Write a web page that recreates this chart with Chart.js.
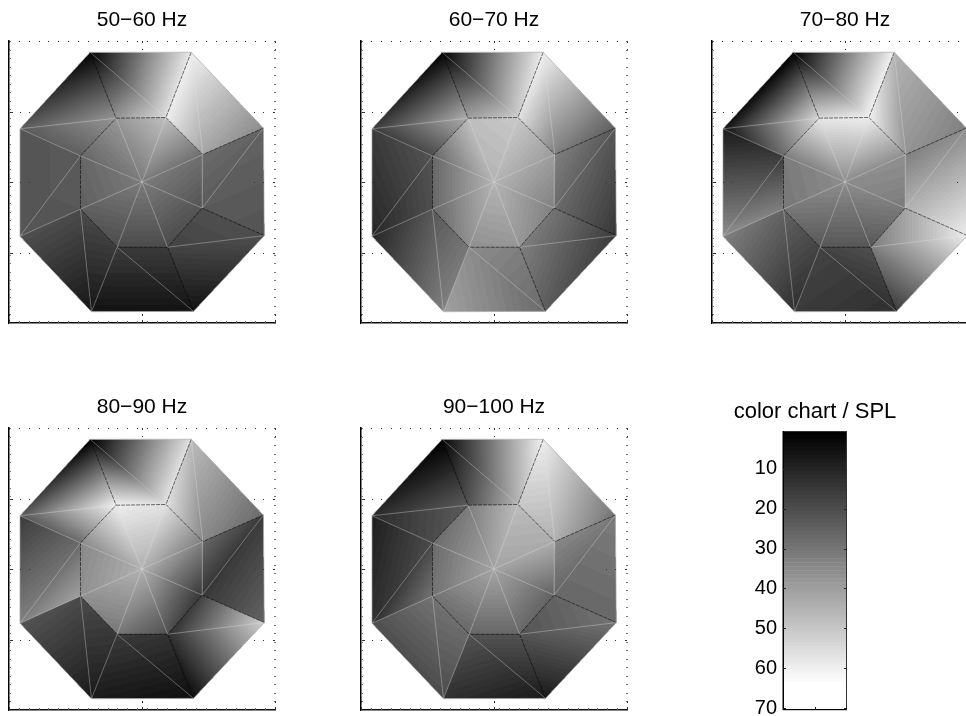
<!DOCTYPE html>
<html><head><meta charset="utf-8">
<script src="https://cdn.jsdelivr.net/npm/chart.js@4"></script>
<style>
html,body{margin:0;padding:0;width:966px;height:716px;overflow:hidden;background:#fff}
canvas{position:absolute}
</style></head><body>
<script>
// mesh vertices in room coordinates
const outerX=[-1.56,1.48,3.65,3.68,1.55,-1.52,-3.67,-3.67];
const outerY=[3.68,3.68,1.53,-1.52,-3.67,-3.68,-1.54,1.51];
const innerX=[-0.78,0.72,1.83,1.81,0.77,-0.75,-1.85,-1.85];
const innerY=[1.81,1.83,0.78,-0.74,-1.85,-1.85,-0.77,0.74];
const xTickValues=[-4,0,4];
const yTickValues=[-4,-2,0,2,4];
const colorbarLabels=[];for(let i=1;i<=70;i++)colorbarLabels.push(String(i));

// SPL at the vertices of each band: centre, inner ring, wall quads [outer i, outer i+1, inner i+1, inner i]
const titles=['50−60 Hz','60−70 Hz','70−80 Hz','80−90 Hz','90−100 Hz'];
const center5060=32;
const inner5060=[38.5,48.5,29,22,20,20,25,27];
const walls5060=[[2,59,56,38],[61,36,42,60],[26,22,24,28],[21,6,18,21],[6,6,16,16],[7,21,20,16],[22,22,24,23],[24,2,38,25]];
const center6070=46;
const inner6070=[48.5,51,40,33,38.5,37,27,27];
const walls6070=[[2,60,52,41],[61,25,33,57],[23,15,28,33],[16,24,33,30],[28,41,36,33],[33,11,23,31],[11,16,22,21],[16,2,44,20]];
const center7080=36;
const inner7080=[58.5,60,37,32,23,23,31,32];
const walls7080=[[1,61,61,55],[46,33,38,61],[36,60,45,33],[60,16,32,42],[13,16,18,21],[13,33,26,18],[36,8,16,33],[6,1,55,28]];
const center8090=45;
const inner8090=[60,57,33,15,21,31,37,35];
const walls8090=[[1,57,57,61],[48,28,35,57],[16,26,15,27],[53,5,13,18],[5,8,16,14],[8,22,20,15],[33,16,28,41],[23,1,61,28]];
const center90100=42;
const inner90100=[32,48,44,26,27,27,30,28];
const walls90100=[[3,61,46,22],[60,30,45,51],[32,27,27,35],[30,8,22,26],[8,13,22,22],[20,21,30,28],[13,9,20,30],[12,1,24,20]];

const FONT='"Liberation Sans", Arial, sans-serif';
const TITLE_SIZE=21;
const CB_TITLE_SIZE=22;
function grayOf(v){const l=Math.max(1,Math.min(64,Math.floor(v)));return Math.round((l-1)/63*255);}

const V=(x,y)=>({x,y});
const O=i=>V(outerX[i%8],outerY[i%8]);
const I=i=>V(innerX[i%8],innerY[i%8]);
function linePts(pairs){const d=[];pairs.forEach(p=>{d.push(p[0],p[1],{x:null,y:null});});return d;}
const outlinePairs=[],lightPairs=[],darkPairs=[],faintPairs=[];
for(let i=0;i<8;i++){
  outlinePairs.push([O(i),O(i+1)]);
  lightPairs.push([V(0,0),I(i)]);
  lightPairs.push([O(i),I(i+1)]);
  if(i===5||i===6||i===7)lightPairs.push([O(i),I(i)]);else darkPairs.push([O(i),I(i)]);
  if(i===2)faintPairs.push([I(i),I(i+1)]);else darkPairs.push([I(i),I(i+1)]);
}

const meshPlugin={id:'mesh',beforeDatasetsDraw(chart,args,opts){
  const xs=chart.scales.x,ys=chart.scales.y,a=chart.chartArea,ctx=chart.ctx,S=2;
  const w=Math.ceil((a.right-a.left)*S),h=Math.ceil((a.bottom-a.top)*S);
  const off=document.createElement('canvas');off.width=w;off.height=h;
  const oc=off.getContext('2d'),img=oc.createImageData(w,h),D=img.data;
  const P=p=>[(xs.getPixelForValue(p.x)-a.left)*S,(ys.getPixelForValue(p.y)-a.top)*S];
  const tri=(A,B,C,va,vb,vc)=>{
    const [x1,y1]=P(A),[x2,y2]=P(B),[x3,y3]=P(C);
    const den=(y2-y3)*(x1-x3)+(x3-x2)*(y1-y3);
    const x0=Math.max(0,Math.floor(Math.min(x1,x2,x3))),x9=Math.min(w-1,Math.ceil(Math.max(x1,x2,x3)));
    const y0=Math.max(0,Math.floor(Math.min(y1,y2,y3))),y9=Math.min(h-1,Math.ceil(Math.max(y1,y2,y3)));
    for(let y=y0;y<=y9;y++)for(let x=x0;x<=x9;x++){
      const px=x+.5,py=y+.5;
      const l1=((y2-y3)*(px-x3)+(x3-x2)*(py-y3))/den;
      const l2=((y3-y1)*(px-x3)+(x1-x3)*(py-y3))/den;
      const l3=1-l1-l2;
      if(l1<-1e-6||l2<-1e-6||l3<-1e-6)continue;
      const g=grayOf(l1*va+l2*vb+l3*vc),k=(y*w+x)*4;
      D[k]=D[k+1]=D[k+2]=g;D[k+3]=255;
    }
  };
  for(let i=0;i<8;i++){
    const j=(i+1)%8,q=opts.walls[i];
    tri(V(0,0),I(i),I(j),opts.center,opts.inner[i],opts.inner[j]);
    tri(O(i),O(j),I(j),q[0],q[1],q[2]);
    tri(O(i),I(j),I(i),q[0],q[2],q[3]);
  }
  oc.putImageData(img,0,0);
  ctx.save();ctx.imageSmoothingEnabled=true;
  ctx.drawImage(off,a.left,a.top,w/S,h/S);
  ctx.restore();
},afterDatasetsDraw(chart){
  const xs=chart.scales.x,ys=chart.scales.y,a=chart.chartArea,ctx=chart.ctx;
  ctx.save();
  const NX=27,NY=33;
  for(let k=0;k<=NX;k++){
    const px=Math.round(xs.getPixelForValue(xs.min+(xs.max-xs.min)*k/NX));
    ctx.fillStyle='#222';ctx.fillRect(px,a.top,1,1);
    ctx.fillStyle='#666';ctx.fillRect(px,a.bottom-2,1,2);
  }
  for(let k=0;k<=NY;k++){
    const py=Math.round(ys.getPixelForValue(ys.min+(ys.max-ys.min)*k/NY));
    ctx.fillStyle='#777';ctx.fillRect(a.right-1,py,2,1);
    ctx.fillStyle='#777';ctx.fillRect(a.left,py,2,1);
  }
  xs.ticks.forEach(t=>{
    const px=Math.round(xs.getPixelForValue(t.value));
    ctx.fillStyle='#333';ctx.fillRect(px,a.top+8,1,1);ctx.fillRect(px,a.bottom-9,1,2);ctx.fillRect(px,a.top,1,2);ctx.fillRect(px,a.bottom-3,1,3);
  });
  ys.ticks.forEach(t=>{
    if(t.value===ys.min||t.value===ys.max)return;
    const py=Math.round(ys.getPixelForValue(t.value));
    ctx.fillStyle='#333';
    [10,20,29].forEach(d=>ctx.fillRect(a.left+d-9,py,d===10?3:1,1));
    [254,263,273].forEach(d=>ctx.fillRect(a.left+d-9,py,d===273?2:1,1));
  });
  ctx.restore();
}};

function makePanel(idx,left,top,center,inner,walls){
  const c=document.createElement('canvas');
  c.width=284;c.height=329;
  c.style.left=(left-9)+'px';c.style.top=(top-41)+'px';
  document.body.appendChild(c);
  new Chart(c,{type:'scatter',
    data:{datasets:[
      {data:linePts(outlinePairs),showLine:true,borderColor:'rgba(165,165,165,.7)',borderWidth:1,pointRadius:0,spanGaps:false},
      {data:linePts(lightPairs),showLine:true,borderColor:'rgba(225,225,225,.5)',borderWidth:.7,pointRadius:0,spanGaps:false},
      {data:linePts(faintPairs),showLine:true,borderColor:'rgba(225,225,225,.25)',borderWidth:.7,pointRadius:0,spanGaps:false},
      {data:linePts(darkPairs),showLine:true,borderColor:'rgba(0,0,0,.55)',borderWidth:1,borderDash:[4,1],pointRadius:0,spanGaps:false}
    ]},
    options:{responsive:false,animation:false,
      layout:{padding:{left:9,right:9,top:0,bottom:6}},
      plugins:{legend:{display:false},tooltip:{enabled:false},
        title:{display:true,text:titles[idx],color:'#000',font:{family:FONT,size:TITLE_SIZE,weight:'normal',lineHeight:1.2},padding:{top:8,bottom:41-8-TITLE_SIZE*1.2}},
        mesh:{center,inner,walls}},
      scales:{
        x:{type:'linear',min:-4,max:4,afterBuildTicks(s){s.ticks=xTickValues.map(v=>({value:v}));},afterFit(s){s.height=0;},
          ticks:{display:false},grid:{drawOnChartArea:false,drawTicks:false},border:{display:true,color:'#111',width:1.5}},
        y:{type:'linear',min:-4,max:4,afterBuildTicks(s){s.ticks=yTickValues.map(v=>({value:v}));},afterFit(s){s.width=0;},
          ticks:{display:false},grid:{drawOnChartArea:false,drawTicks:false},border:{display:true,color:'#000',width:1.5}}
      }},
    plugins:[meshPlugin]});
}
makePanel(0,9,41,center5060,inner5060,walls5060);
makePanel(1,361,41,center6070,inner6070,walls6070);
makePanel(2,712,41,center7080,inner7080,walls7080);
makePanel(3,9,428,center8090,inner8090,walls8090);
makePanel(4,361,428,center90100,inner90100,walls90100);

// colour chart
const cb=document.createElement('canvas');
cb.width=230;cb.height=326;cb.style.left='700px';cb.style.top='390px';
document.body.appendChild(cb);
const cbFrame={id:'cbFrame',afterDatasetsDraw(chart){
  const a=chart.chartArea,ctx=chart.ctx,ys=chart.scales.y;
  ctx.save();
  ctx.strokeStyle='#333';ctx.lineWidth=1;
  ctx.strokeRect(a.left+.5,a.top+.5,a.right-a.left-1,a.bottom-a.top-1);
  ctx.fillStyle='#000';ctx.fillRect(a.left-.5,a.top,1.5,a.bottom-a.top);
  ctx.fillRect(a.left,a.bottom-1,a.right-a.left,1.2);
  ys.ticks.forEach((t,i)=>{
    if(!((i+1)%10===0))return;
    const py=Math.round(ys.getPixelForTick(i));
    ctx.fillStyle='#222';ctx.fillRect(a.left,py,3,1);ctx.fillRect(a.right-3,py,3,1);
  });
  ctx.fillStyle='#222';ctx.fillRect(Math.round((a.left+a.right)/2),a.bottom-3,1,3);ctx.fillRect(a.right-1,a.bottom-3,1,3);
  ctx.restore();
}};
new Chart(cb,{type:'bar',
  data:{labels:colorbarLabels,datasets:[{data:colorbarLabels.map(()=>1),
    backgroundColor:colorbarLabels.map(l=>{const g=grayOf(+l);return `rgb(${g},${g},${g})`;}),
    barPercentage:1,categoryPercentage:1,borderWidth:0}]},
  options:{indexAxis:'y',responsive:false,animation:false,
    layout:{padding:{left:0,right:0,top:0,bottom:6}},
    plugins:{legend:{display:false},tooltip:{enabled:false},
      title:{display:true,text:'color chart / SPL',color:'#000',font:{family:FONT,size:CB_TITLE_SIZE,weight:'normal',lineHeight:1.2},padding:{top:9,bottom:41-9-CB_TITLE_SIZE*1.2}}},
    scales:{
      x:{type:'linear',min:0,max:1,display:false},
      y:{type:'category',position:'left',afterFit(s){s.width=83;s.paddingTop=0;s.paddingBottom=0;},
        grid:{drawOnChartArea:false,drawTicks:false},border:{display:false},
        ticks:{autoSkip:false,maxRotation:0,padding:6,color:'#000',font:{family:FONT,size:20},
          callback(v,i){return (i+1)%10===0?this.getLabelForValue(v):'';}}},
      rightSpacer:{axis:'y',type:'linear',position:'right',min:0,max:1,afterFit(s){s.width=83;},
        ticks:{display:false},grid:{display:false},border:{display:false}}
    }},
  plugins:[cbFrame]});
</script>
</body></html>
